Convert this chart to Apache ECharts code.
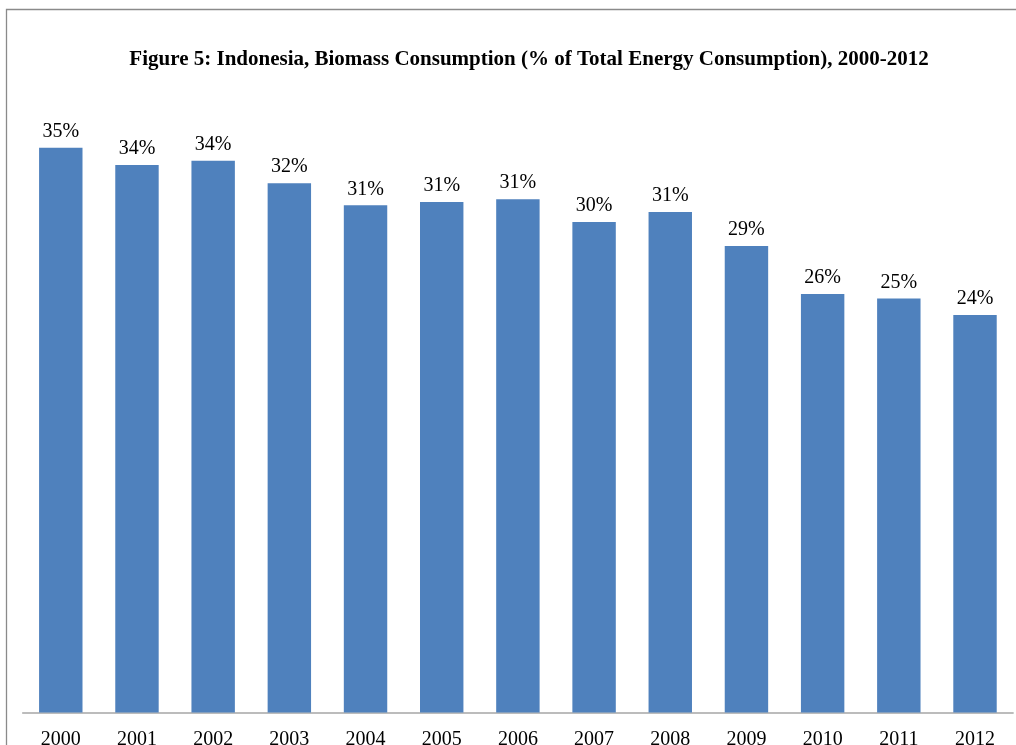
<!DOCTYPE html>
<html>
<head>
<meta charset="utf-8">
<script src="https://cdn.jsdelivr.net/npm/echarts@6/dist/echarts.min.js"></script>
<style>
html,body{margin:0;padding:0;background:#fff;}
#chart{width:1016px;height:745px;}
</style>
</head>
<body>
<div id="chart"></div>
<script>
const titleText = 'Figure 5: Indonesia, Biomass Consumption (% of Total Energy Consumption), 2000-2012';
const years = ['2000','2001','2002','2003','2004','2005','2006','2007','2008','2009','2010','2011','2012'];
const biomassShare = [34.61, 33.55, 33.81, 32.43, 31.08, 31.28, 31.45, 30.06, 30.67, 28.58, 25.64, 25.36, 24.36];

const chart = echarts.init(document.getElementById('chart'), null, {renderer: 'canvas'});
chart.setOption({
  animation: false,
  backgroundColor: '#ffffff',
  title: {
    text: titleText,
    left: 524,
    top: 44,
    textAlign: 'center',
    textStyle: {
      fontFamily: '"Liberation Serif", "Times New Roman", serif',
      fontWeight: 'bold',
      fontSize: 21,
      color: '#000'
    }
  },
  graphic: [{
    type: 'rect',
    shape: {x: 6.5, y: 9.5, width: 1200, height: 1000},
    style: {fill: 'none', stroke: '#8a8a8a', lineWidth: 1.3},
    silent: true
  }],
  grid: {left: 22.7, right: 2.9, top: 59.7, bottom: 32.5, containLabel: false, outerBoundsMode: 'none'},
  xAxis: {
    type: 'category',
    data: years,
    axisLine: {show: true, lineStyle: {color: '#a6a6a6', width: 1.5}},
    axisTick: {show: false},
    axisLabel: {
      margin: 17,
      fontFamily: '"Liberation Serif", "Times New Roman", serif',
      fontSize: 20,
      color: '#000'
    }
  },
  yAxis: {
    type: 'value',
    min: 0,
    max: 40,
    show: false,
    splitLine: {show: false}
  },
  series: [{
    type: 'bar',
    data: biomassShare,
    barCategoryGap: '43%',
    itemStyle: {color: '#4F81BD'},
    label: {
      show: true,
      position: 'top',
      distance: 6,
      fontFamily: '"Liberation Serif", "Times New Roman", serif',
      fontSize: 20,
      color: '#000',
      formatter: p => Math.round(p.value) + '%'
    }
  }]
});
</script>
</body>
</html>
